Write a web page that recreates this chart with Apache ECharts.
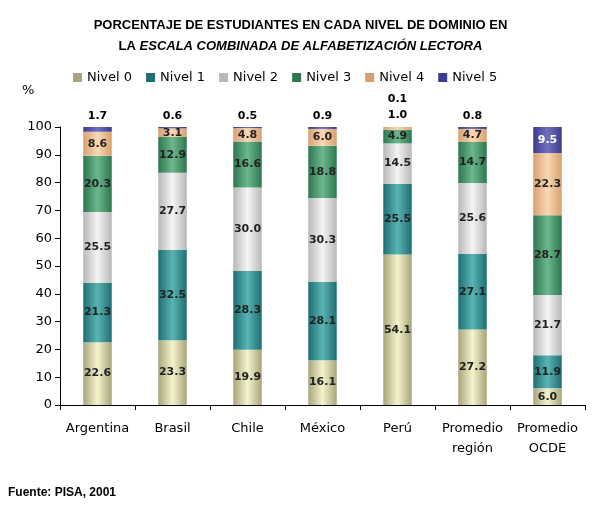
<!DOCTYPE html><html><head><meta charset="utf-8"><script src="https://cdn.jsdelivr.net/npm/echarts@6/dist/echarts.min.js"></script></head><body style="margin:0"><div id="c" style="width:601px;height:508px"></div><script>
const categories=["Argentina","Brasil","Chile","México","Perú","Promedio\nregión","Promedio\nOCDE"];
const levels=["Nivel 0","Nivel 1","Nivel 2","Nivel 3","Nivel 4","Nivel 5"];
const nivel0=[22.6,23.3,19.9,16.1,54.1,27.2,6.0];
const nivel1=[21.3,32.5,28.3,28.1,25.5,27.1,11.9];
const nivel2=[25.5,27.7,30.0,30.3,14.5,25.6,21.7];
const nivel3=[20.3,12.9,16.6,18.8,4.9,14.7,28.7];
const nivel4=[8.6,3.1,4.8,6.0,1.0,4.7,22.3];
const nivel5=[1.7,0.6,0.5,0.9,0.1,0.8,9.5];
const yTicks=[0,10,20,30,40,50,60,70,80,90,100];
const all=[nivel0,nivel1,nivel2,nivel3,nivel4,nivel5];
const cols=[["#f4f4cc","#a8a47c"],["#5ab4b4","#1f6e70"],["#f4f4f4","#b8b8b8"],["#6cb88c","#2e7650"],["#f8d8b4","#d8a070"],["#7070c0","#3c3c90"]];
const series=all.map((arr,i)=>({name:levels[i],type:'bar',stack:'s',barWidth:'38%',
 itemStyle:{color:new echarts.graphic.LinearGradient(0,0,1,0,[{offset:0,color:cols[i][1]},{offset:0.5,color:cols[i][0]},{offset:1,color:cols[i][1]}])},
 data:arr.map((v,j)=>{
  const d={value:v};
  if(i===5 && j!==6){d.label={position:'top',distance:j===4?22:5,color:'#000'};}
  if(i===4 && j===4){d.label={position:'top',distance:6,color:'#000'};}
  return d;}),
 label:{show:true,position:'inside',fontSize:11,fontWeight:'bold',fontFamily:'DejaVu Sans',color:i===5?'#fff':'#222',formatter:p=>p.value.toFixed(1)}}));
const ch=echarts.init(document.getElementById('c'));
ch.setOption({animation:false,
 title:{left:'center',top:14,itemGap:8,text:'PORCENTAJE DE ESTUDIANTES EN CADA NIVEL DE DOMINIO EN',
  subtext:'{a|LA }{b|ESCALA COMBINADA DE ALFABETIZACIÓN LECTORA}',
  textStyle:{fontSize:13,fontWeight:'bold',fontFamily:'Liberation Sans',color:'#000'},
  subtextStyle:{rich:{a:{fontSize:13,fontWeight:'bold',fontFamily:'Liberation Sans',color:'#000'},b:{fontSize:13,fontWeight:'bold',fontStyle:'italic',fontFamily:'Liberation Sans',color:'#000'}}}},
 legend:{top:66,left:68,icon:'rect',itemWidth:9,itemHeight:9,itemGap:14,textStyle:{fontSize:13,fontFamily:'DejaVu Sans',color:'#000'},data:levels.map((n,i)=>({name:n,itemStyle:{color:cols[i][1]}}))},
 graphic:[{type:'text',left:22,top:84,style:{text:'%',fontSize:13,fontFamily:'DejaVu Sans'}},
  {type:'text',left:8,top:487,style:{text:'Fuente: PISA, 2001',fontSize:12,fontWeight:'bold',fontFamily:'Liberation Sans'}}],
 grid:{left:60,right:16,top:127,bottom:103},
 xAxis:{type:'category',data:categories,axisTick:{show:true},axisLine:{lineStyle:{color:'#000'}},axisLabel:{interval:0,fontSize:13,fontFamily:'DejaVu Sans',color:'#000',lineHeight:20,margin:14}},
 yAxis:{type:'value',min:0,max:100,interval:10,axisLine:{show:true,lineStyle:{color:'#000'}},axisTick:{show:true},splitLine:{show:false},axisLabel:{fontSize:13,fontFamily:'DejaVu Sans',color:'#000',formatter:v=>yTicks.includes(v)?String(v):''}},
 series});
</script></body></html>
